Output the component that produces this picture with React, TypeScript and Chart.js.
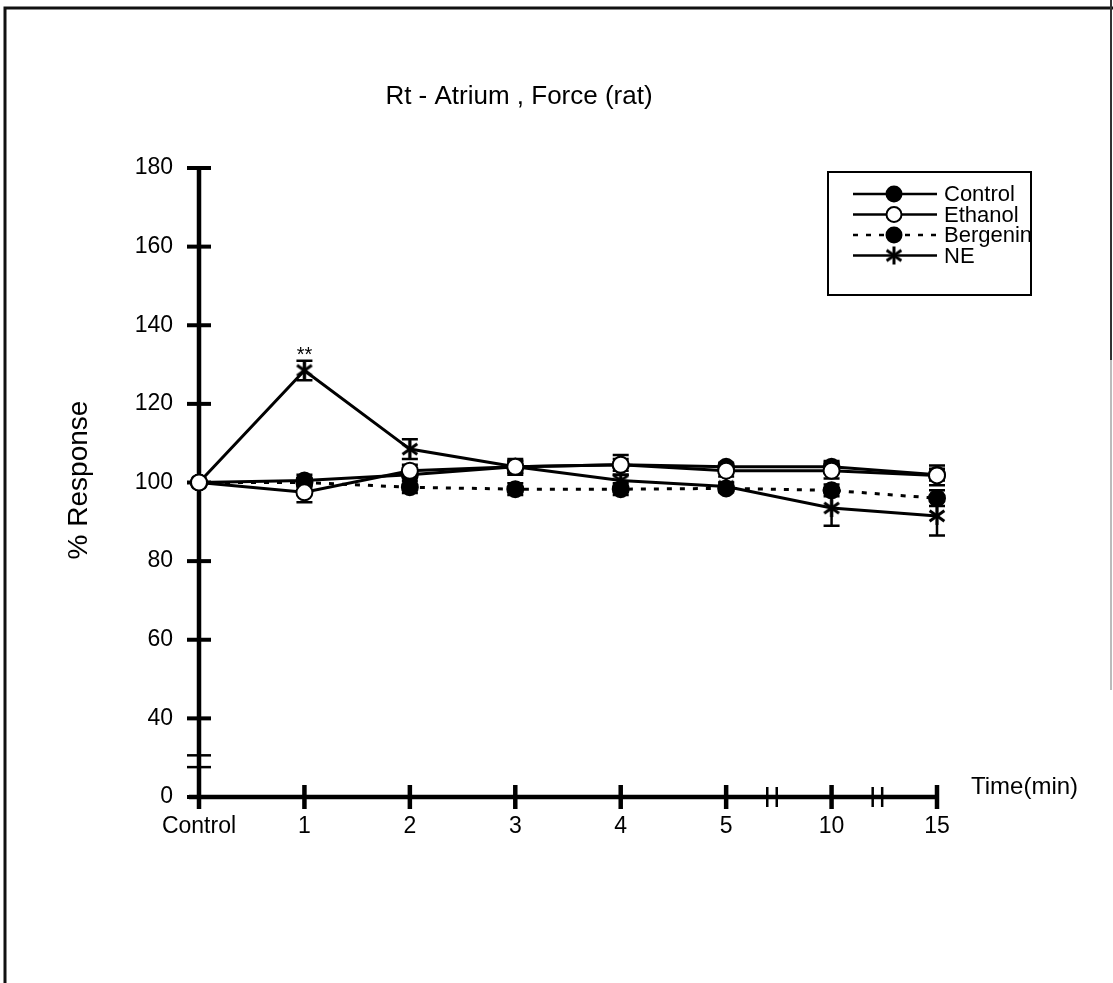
import React, { useEffect, useRef } from 'react';
import { Chart, registerables } from 'chart.js';

Chart.register(...registerables);

// ---- data ----
const categories = ['Control', '1', '2', '3', '4', '5', '10', '15'];
const controlValues = [100, 100.5, 102, 104, 104.5, 104, 104, 102];
const ethanolValues = [100, 97.5, 103, 104, 104.5, 103, 103, 101.8];
const bergeninValues = [100, 100, 98.8, 98.3, 98.3, 98.5, 98, 96];
const neValues = [100, 128.5, 108.5, 104, 100.5, 99, 93.5, 91.5];
const controlErr = [0, 1.5, 1, 1.5, 1.5, 1, 1.5, 1.5];
const ethanolErr = [0, 2.5, 1.5, 1.5, 2.5, 1.5, 2, 2.5];
const bergeninErr = [0, 1, 1.5, 1.5, 1.5, 1, 1.5, 2];
const neErr = [0, 2.5, 2.5, 2, 1.5, 1, 4.5, 5];
const yTickValues = [20, 40, 60, 80, 100, 120, 140, 160, 180];
const yTickLabels = ['0', '40', '60', '80', '100', '120', '140', '160', '180'];
const yBreakValues = [27.6, 30.6];
const xBreakValues = [5.39, 5.48, 6.39, 6.48];
const seriesNames = ['Control', 'Ethanol', 'Bergenin', 'NE'];
const significance = [{ index: 1, text: '**' }];

const FONT = '"Liberation Sans", Arial, sans-serif';

function makeAsterisk(size: number, lw: number): HTMLCanvasElement {
  const c = document.createElement('canvas');
  c.width = size;
  c.height = size;
  const ctx = c.getContext('2d')!;
  ctx.strokeStyle = '#000';
  ctx.lineWidth = lw;
  const cx = size / 2;
  const r = size / 2 - 1;
  [90, 35, 145].forEach((deg) => {
    const a = (deg * Math.PI) / 180;
    ctx.beginPath();
    ctx.moveTo(cx - r * Math.cos(a), cx - r * Math.sin(a));
    ctx.lineTo(cx + r * Math.cos(a), cx + r * Math.sin(a));
    ctx.stroke();
  });
  return c;
}

export default function App() {
  const ref = useRef<HTMLCanvasElement | null>(null);

  useEffect(() => {
    if (!ref.current) return;
    const star = makeAsterisk(20, 3);
    const errors = [controlErr, ethanolErr, bergeninErr, neErr];

    const framePlugin = {
      id: 'frame',
      beforeDraw(chart: any) {
        const ctx = chart.ctx;
        ctx.save();
        ctx.fillStyle = '#fff';
        ctx.fillRect(0, 0, chart.width, chart.height);
        ctx.strokeStyle = '#111';
        ctx.lineWidth = 3;
        ctx.beginPath();
        ctx.moveTo(5, 983);
        ctx.lineTo(5, 8);
        ctx.lineTo(1113, 8);
        ctx.stroke();
        ctx.lineWidth = 2;
        ctx.strokeStyle = '#333';
        ctx.beginPath();
        ctx.moveTo(1111, 0);
        ctx.lineTo(1111, 360);
        ctx.stroke();
        ctx.strokeStyle = '#bbb';
        ctx.beginPath();
        ctx.moveTo(1111, 360);
        ctx.lineTo(1111, 690);
        ctx.stroke();
        ctx.restore();
      },
    };

    const axesPlugin = {
      id: 'axesDraw',
      beforeDatasetsDraw(chart: any) {
        const ctx = chart.ctx;
        const xs = chart.scales.x;
        const ys = chart.scales.y;
        const x0 = xs.getPixelForValue(0);
        const x1 = xs.getPixelForValue(categories.length - 1);
        const yb = ys.getPixelForValue(yTickValues[0]);
        const yt = ys.getPixelForValue(yTickValues[yTickValues.length - 1]);
        ctx.save();
        ctx.strokeStyle = '#000';
        ctx.lineWidth = 4.5;
        ctx.beginPath();
        ctx.moveTo(x0, yt);
        ctx.lineTo(x0, yb + 12);
        ctx.moveTo(x0 - 10, yb);
        ctx.lineTo(x1, yb);
        ctx.stroke();
        // y ticks
        ctx.lineWidth = 4;
        yTickValues.forEach((v) => {
          const p = ys.getPixelForValue(v);
          ctx.beginPath();
          ctx.moveTo(x0 - 12, p);
          ctx.lineTo(x0 + 12, p);
          ctx.stroke();
        });
        ctx.lineWidth = 2.5;
        yBreakValues.forEach((v) => {
          const p = ys.getPixelForValue(v);
          ctx.beginPath();
          ctx.moveTo(x0 - 12, p);
          ctx.lineTo(x0 + 12, p);
          ctx.stroke();
        });
        // x ticks
        ctx.lineWidth = 4.5;
        categories.forEach((_, i) => {
          if (i === 0) return;
          const p = xs.getPixelForValue(i);
          ctx.beginPath();
          ctx.moveTo(p, yb - 12);
          ctx.lineTo(p, yb + 12);
          ctx.stroke();
        });
        ctx.lineWidth = 2.5;
        xBreakValues.forEach((v) => {
          const p = xs.getPixelForValue(v);
          ctx.beginPath();
          ctx.moveTo(p, yb - 10);
          ctx.lineTo(p, yb + 10);
          ctx.stroke();
        });
        // error bars
        ctx.lineWidth = 2.5;
        chart.data.datasets.forEach((ds: any, di: number) => {
          const err = errors[di];
          ds.data.forEach((v: number, i: number) => {
            const e = err[i];
            if (!e) return;
            const px = xs.getPixelForValue(i);
            const pTop = ys.getPixelForValue(v + e);
            const pBot = ys.getPixelForValue(v - e);
            ctx.beginPath();
            ctx.moveTo(px, pTop);
            ctx.lineTo(px, pBot);
            ctx.moveTo(px - 8, pTop);
            ctx.lineTo(px + 8, pTop);
            ctx.moveTo(px - 8, pBot);
            ctx.lineTo(px + 8, pBot);
            ctx.stroke();
          });
        });
        ctx.restore();
      },
      afterDraw(chart: any) {
        const ctx = chart.ctx;
        const xs = chart.scales.x;
        const ys = chart.scales.y;
        ctx.save();
        ctx.fillStyle = '#000';
        // title
        ctx.font = `26px ${FONT}`;
        ctx.textAlign = 'center';
        ctx.textBaseline = 'middle';
        ctx.fillText('Rt - Atrium , Force (rat)', 519, 97);
        // y title
        ctx.save();
        ctx.translate(79, 480);
        ctx.rotate(-Math.PI / 2);
        ctx.font = `28px ${FONT}`;
        ctx.fillText('% Response', 0, 0);
        ctx.restore();
        // x title
        ctx.font = `24px ${FONT}`;
        ctx.textAlign = 'left';
        ctx.fillText('Time(min)', 971, 787);
        // significance
        ctx.font = `20px ${FONT}`;
        ctx.textAlign = 'center';
        ctx.textBaseline = 'alphabetic';
        significance.forEach((s) => {
          const px = xs.getPixelForValue(s.index);
          const py = ys.getPixelForValue(neValues[s.index] + neErr[s.index]);
          ctx.fillText(s.text, px, py);
        });
        // legend
        ctx.strokeStyle = '#000';
        ctx.lineWidth = 2;
        ctx.strokeRect(828, 172, 203, 123);
        const rows = [194, 214.5, 235, 255.5];
        chart.data.datasets.forEach((ds: any, i: number) => {
          const y = rows[i];
          ctx.save();
          ctx.strokeStyle = '#000';
          ctx.lineWidth = 2.5;
          ctx.setLineDash(ds.borderDash || []);
          ctx.beginPath();
          ctx.moveTo(853, y);
          ctx.lineTo(937, y);
          ctx.stroke();
          ctx.setLineDash([]);
          if (ds.pointStyle === 'circle') {
            ctx.beginPath();
            ctx.arc(894, y, 7.5, 0, Math.PI * 2);
            ctx.fillStyle = ds.pointBackgroundColor;
            ctx.fill();
            ctx.lineWidth = 2;
            ctx.stroke();
          } else {
            ctx.drawImage(star, 894 - 10, y - 10);
          }
          ctx.restore();
          ctx.font = `22px ${FONT}`;
          ctx.textAlign = 'left';
          ctx.textBaseline = 'middle';
          ctx.fillStyle = '#000';
          ctx.fillText(seriesNames[i], 944, y + 1);
        });
        ctx.restore();
      },
    };

    const common = {
      borderColor: '#000',
      borderWidth: 3,
      pointRadius: 8,
      pointBorderWidth: 2,
      pointBorderColor: '#000',
    };

    const chart = new Chart(ref.current, {
      type: 'line',
      data: {
        labels: categories,
        datasets: [
          {
            ...common,
            label: seriesNames[0],
            data: controlValues,
            pointStyle: 'circle',
            pointBackgroundColor: '#000',
            order: 1,
          },
          {
            ...common,
            label: seriesNames[1],
            data: ethanolValues,
            pointStyle: 'circle',
            pointBackgroundColor: '#fff',
            order: 0,
          },
          {
            ...common,
            label: seriesNames[2],
            data: bergeninValues,
            borderDash: [5, 8],
            pointStyle: 'circle',
            pointBackgroundColor: '#000',
            order: 3,
          },
          {
            ...common,
            label: seriesNames[3],
            data: neValues,
            pointStyle: star as any,
            pointRadius: 10,
            pointBackgroundColor: '#000',
            order: 2,
          },
        ],
      },
      options: {
        animation: false,
        responsive: false,
        devicePixelRatio: 1,
        layout: { padding: { top: 168, right: 176, bottom: 0, left: 0 } },
        plugins: {
          legend: { display: false },
          title: { display: false },
          tooltip: { enabled: false },
        },
        scales: {
          x: {
            type: 'category',
            offset: false,
            grid: { display: false, drawTicks: false },
            border: { display: false },
            ticks: {
              color: '#000',
              font: { family: FONT, size: 23 },
              padding: 16,
              maxRotation: 0,
              autoSkip: false,
            },
            afterFit: (s: any) => {
              s.height = 186;
            },
          },
          y: {
            type: 'linear',
            min: 20,
            max: 180,
            grid: { display: false, drawTicks: false },
            border: { display: false },
            ticks: {
              stepSize: 20,
              color: '#000',
              font: { family: FONT, size: 23 },
              padding: 26,
              callback: (v: any) => {
                const i = yTickValues.indexOf(Number(v));
                return i >= 0 ? yTickLabels[i] : '';
              },
            },
            afterFit: (s: any) => {
              s.width = 199;
            },
          },
        },
      },
      plugins: [framePlugin, axesPlugin],
    });
    return () => chart.destroy();
  }, []);

  return (
    <div style={{ position: 'absolute', left: 0, top: 0, width: 1113, height: 983 }}>
      <canvas ref={ref} width={1113} height={983} style={{ display: 'block', width: 1113, height: 983 }} />
    </div>
  );
}
